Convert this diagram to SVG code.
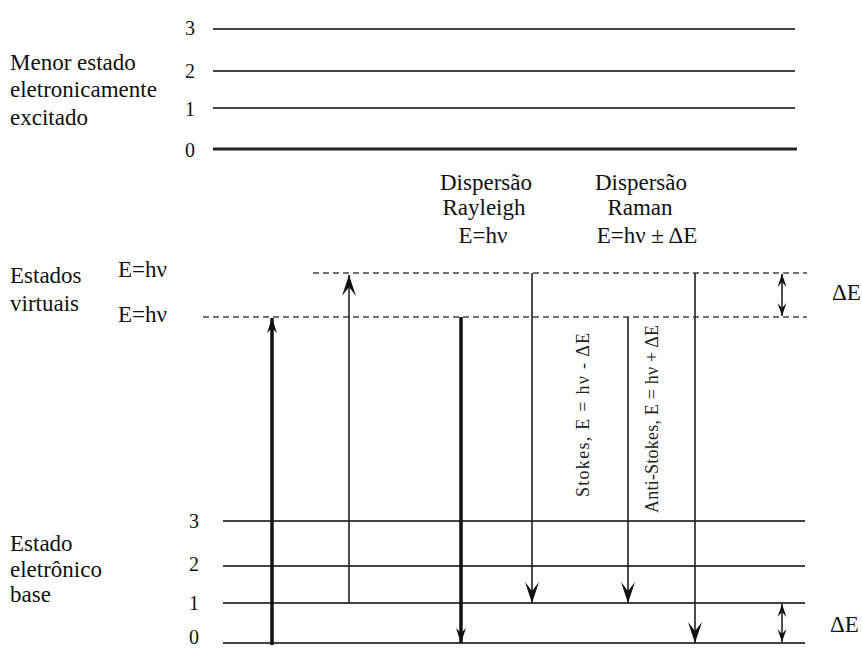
<svg xmlns="http://www.w3.org/2000/svg" width="862" height="650" viewBox="0 0 862 650">
<style>
.t{font-family:'Liberation Serif','Times New Roman','DejaVu Serif',serif;font-size:23px;fill:#111}
.n{font-family:'Liberation Serif','Times New Roman','DejaVu Serif',serif;font-size:20px;fill:#111}
.r{font-family:'Liberation Serif','Times New Roman','DejaVu Serif',serif;font-size:18px;fill:#222}
.lv{stroke:#444;stroke-width:1.8;fill:none}
.lv0{stroke:#222;stroke-width:3.2;fill:none}
.ds{stroke:#444;stroke-width:1.6;stroke-dasharray:6 4;fill:none}
.a{stroke:#222;stroke-width:1.6;fill:none}
.ak{stroke:#111;stroke-width:3.5;fill:none}
</style>
<defs>
<marker id="ah" viewBox="-22 -8 24 16" markerWidth="24" markerHeight="16" refX="0" refY="0" orient="auto" markerUnits="userSpaceOnUse">
<path d="M0,0 L-21,-7 L-12,0 L-21,7 Z" fill="#111"/>
</marker>
<marker id="ahk" viewBox="-16 -6 18 12" markerWidth="18" markerHeight="12" refX="0" refY="0" orient="auto" markerUnits="userSpaceOnUse">
<path d="M0,0 L-15,-5 L-10,0 L-15,5 Z" fill="#111"/>
</marker>
<marker id="ahs" viewBox="-14 -6 16 12" markerWidth="16" markerHeight="12" refX="0" refY="0" orient="auto" markerUnits="userSpaceOnUse">
<path d="M0,0 L-13,-4.5 L-8,0 L-13,4.5 Z" fill="#111"/>
</marker>
<marker id="ahs0" viewBox="-14 -6 16 12" markerWidth="16" markerHeight="12" refX="0" refY="0" orient="auto-start-reverse" markerUnits="userSpaceOnUse">
<path d="M0,0 L-13,-4.5 L-8,0 L-13,4.5 Z" fill="#111"/>
</marker>
</defs>

<g id="excited-state">
<text class="t" x="10" y="70">Menor estado</text>
<text class="t" x="10" y="97">eletronicamente</text>
<text class="t" x="10" y="125">excitado</text>
<text class="n" x="185" y="35">3</text>
<text class="n" x="185" y="78">2</text>
<text class="n" x="185" y="116">1</text>
<text class="n" x="185" y="157">0</text>
<line class="lv" x1="213" y1="29" x2="795" y2="29"/>
<line class="lv" x1="213" y1="71" x2="795" y2="71"/>
<line class="lv" x1="213" y1="108" x2="795" y2="108"/>
<line class="lv0" x1="213" y1="149" x2="797" y2="149"/>
</g>

<g id="virtual-states">
<text class="t" x="10" y="283">Estados</text>
<text class="t" x="10" y="311">virtuais</text>
<text class="t" x="118" y="277">E=hν</text>
<text class="t" x="118" y="322">E=hν</text>
<line class="ds" x1="313" y1="273" x2="807" y2="273"/>
<line class="ds" x1="203" y1="317" x2="807" y2="317"/>
</g>

<g id="ground-state">
<text class="t" x="10" y="551">Estado</text>
<text class="t" x="10" y="577">eletrônico</text>
<text class="t" x="10" y="602">base</text>
<text class="n" x="189" y="528">3</text>
<text class="n" x="189" y="571">2</text>
<text class="n" x="189" y="610">1</text>
<text class="n" x="189" y="644">0</text>
<line class="lv" x1="223" y1="521" x2="805" y2="521"/>
<line class="lv" x1="223" y1="566" x2="805" y2="566"/>
<line class="lv" x1="223" y1="603" x2="805" y2="603"/>
<line class="lv" x1="223" y1="643" x2="805" y2="643"/>
</g>

<g id="rayleigh-label">
<text class="t" x="486" y="190" text-anchor="middle">Dispersão</text>
<text class="t" x="484" y="215" text-anchor="middle">Rayleigh</text>
<text class="t" x="483" y="243" text-anchor="middle">E=hν</text>
</g>

<g id="raman-label">
<text class="t" x="641" y="190" text-anchor="middle">Dispersão</text>
<text class="t" x="640" y="215" text-anchor="middle">Raman</text>
<text class="t" x="647" y="243" text-anchor="middle">E=hν ± ΔE</text>
</g>

<g id="stokes-label">
<text class="r" transform="translate(589,415) rotate(-90)" text-anchor="middle" textLength="164" lengthAdjust="spacing">Stokes, E =  hν - ΔE</text>
</g>
<g id="antistokes-label">
<text class="r" transform="translate(658,419) rotate(-90)" text-anchor="middle" textLength="188" lengthAdjust="spacing">Anti-Stokes, E = hν + ΔE</text>
</g>

<g id="delta-labels">
<text class="t" x="832" y="300">ΔE</text>
<text class="t" x="830" y="632">ΔE</text>
</g>

<g id="connectors">
<line class="ak" x1="272" y1="645" x2="272" y2="318" marker-end="url(#ahk)"/>
<line class="a" x1="349" y1="603" x2="349" y2="275" marker-end="url(#ah)"/>
<line class="ak" x1="461" y1="317" x2="461" y2="643" marker-end="url(#ahk)"/>
<line class="a" x1="532" y1="273" x2="532" y2="603" marker-end="url(#ah)"/>
<line class="a" x1="628" y1="317" x2="628" y2="603" marker-end="url(#ah)"/>
<line class="a" x1="695" y1="273" x2="695" y2="643" marker-end="url(#ah)"/>
<line class="a" x1="782" y1="274" x2="782" y2="316" marker-start="url(#ahs0)" marker-end="url(#ahs)"/>
<line class="a" x1="782" y1="604" x2="782" y2="642" marker-start="url(#ahs0)" marker-end="url(#ahs)"/>
</g>
</svg>
